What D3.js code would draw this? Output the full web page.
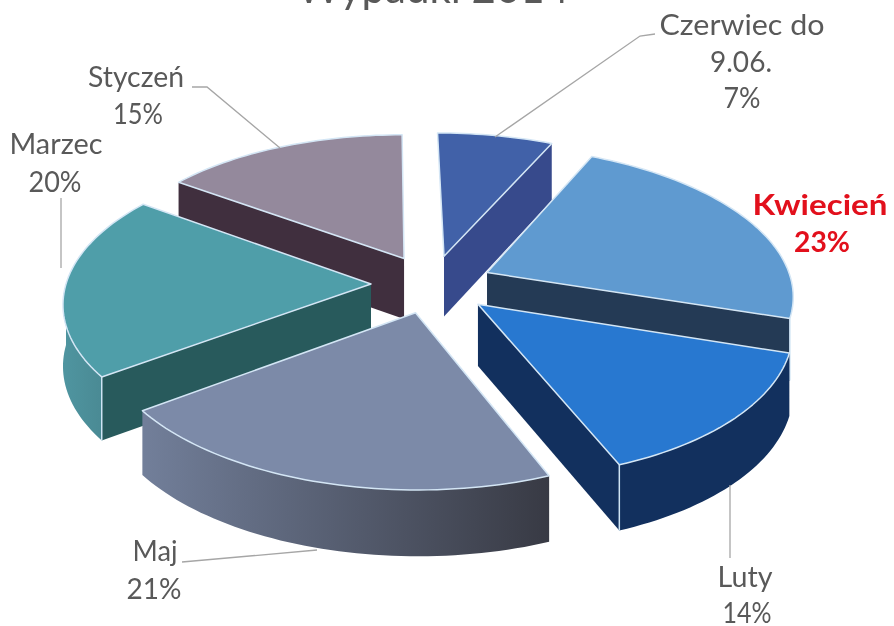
<!DOCTYPE html>
<html lang="en">
<head>
<meta charset="UTF-8">
<title>Wypadki 2014</title>
<style>
body { margin: 0; background: #fff; }
svg { filter: blur(0.5px); }
text { font-family: Lato, "Open Sans", sans-serif; }
</style>
</head>
<body>
<script src="https://d3js.org/d3.v7.min.js"></script>
<script>
var titleText = 'Wypadki 2014';
var months = ['Czerwiec do 9.06.', 'Kwiecień', 'Luty', 'Maj', 'Marzec', 'Styczeń'];
var shares = [7, 23, 14, 21, 20, 15];

var topColors = ['#4161a8', '#5f9ad0', '#2878d0', '#7c8aa8', '#4f9ea9', '#94899c'];
var wallColors = ['#374a8c', '#243a55', '#12305e', '#4a5266', '#285a5c', '#402f3e'];
var rimLeft = ['#374a8c', '#243a55', '#12305e', '#727f9a', '#4f95a0', '#402f3e'];
var rimRight = ['#374a8c', '#243a55', '#12305e', '#383a44', '#4a8a94', '#402f3e'];

// each label line: text, centre x, baseline, measured width
var labelLayout = [
    { hot: false, lines: [['Czerwiec do', 742, 35, 165], ['9.06.', 741, 72, 62], ['7%', 742, 108, 37]] },
    { hot: true, lines: [['Kwiecień', 820, 215, 135], ['23%', 822, 252, 56]] },
    { hot: false, lines: [['Luty', 745, 587, 55], ['14%', 747, 623, 49]] },
    { hot: false, lines: [['Maj', 155, 561, 45], ['21%', 154, 599, 55]] },
    { hot: false, lines: [['Marzec', 56, 154, 93], ['20%', 55, 192, 53]] },
    { hot: false, lines: [['Styczeń', 136, 87, 96], ['15%', 138, 124, 50]] }
];
var leaders = [
    [[495, 137], [640, 36], [655, 34]],
    [[730, 485], [730, 558]],
    [[317, 550], [182, 562]],
    [[61, 268], [61, 198]],
    [[280, 148], [207, 87], [192, 87]]
];

var width = 894, height = 626;
var cx = 432, cy = 284;
var rx = 305, ry = 146, persp = 0.13, depth = 61, explode = 0.2, skew = 5;

var svg = d3.select('body').append('svg')
    .attr('width', width)
    .attr('height', height);

var defs = svg.append('defs');

var angle = d3.scaleLinear().domain([0, 1]).range([0, 2 * Math.PI]);

var pie = d3.pie().sort(null).value(d => d)
    .startAngle(angle(0)).endAngle(angle(1));
var slices = pie(shares).map(function (s, i) {
    s.index = i;
    s.mid = (s.startAngle + s.endAngle) / 2;
    return s;
});

// plane point -> screen, near side gets bigger
function project(u, v, z) {
    var w = 1 - persp * v;
    return [cx + rx * u / w + skew * v, cy + ry * v / w + z * depth / Math.sqrt(w)];
}
function apex(s, z) {
    return project(explode * Math.sin(s.mid), -explode * Math.cos(s.mid), z);
}
function rim(s, a, z) {
    return project(explode * Math.sin(s.mid) + Math.sin(a), -explode * Math.cos(s.mid) - Math.cos(a), z);
}
function arcAngles(a0, a1) {
    var n = Math.max(2, Math.ceil((a1 - a0) * 40));
    return d3.range(n + 1).map(i => a0 + (a1 - a0) * i / n);
}

var openLine = d3.line();
var closedLine = d3.line().curve(d3.curveLinearClosed);

function radialWall(s, a) {
    return closedLine([apex(s, 0), rim(s, a, 0), rim(s, a, 1), apex(s, 1)]);
}

var order = slices.slice().sort((a, b) => -Math.cos(a.mid) - -Math.cos(b.mid));

order.forEach(function (s) {
    var i = s.index;
    var g = svg.append('g').attr('class', 'slice');

    var grad = defs.append('linearGradient').attr('id', 'rim' + i);
    grad.append('stop').attr('offset', '0%').attr('stop-color', rimLeft[i]);
    grad.append('stop').attr('offset', '100%').attr('stop-color', rimRight[i]);

    // walls that face the viewer
    if (Math.sin(s.startAngle) < -1e-6) {
        g.append('path').attr('d', radialWall(s, s.startAngle)).attr('fill', wallColors[i]);
    }
    if (Math.sin(s.endAngle) > 1e-6) {
        g.append('path').attr('d', radialWall(s, s.endAngle)).attr('fill', wallColors[i]);
    }

    // outer wall, short slivers at the side do not show in the original
    var r0 = Math.max(s.startAngle, Math.PI / 2);
    var r1 = Math.min(s.endAngle, 3 * Math.PI / 2);
    if (r1 - r0 > 0.4) {
        var as = arcAngles(r0, r1);
        var strip = as.map(a => rim(s, a, 0)).concat(as.slice().reverse().map(a => rim(s, a, 1)));
        g.append('path').attr('d', closedLine(strip)).attr('fill', 'url(#rim' + i + ')');
    }

    // corner edge where wall meets rim
    [s.startAngle, s.endAngle].forEach(function (a) {
        if (a > Math.PI / 2 && a < 3 * Math.PI / 2 && ((a === s.endAngle && Math.sin(a) > 0) || (a === s.startAngle && Math.sin(a) < 0))) {
            g.append('path').attr('d', openLine([rim(s, a, 0), rim(s, a, 1)]))
                .attr('fill', 'none').attr('stroke', '#cfe4f4').attr('stroke-width', 1.5);
        }
    });

    var face = [apex(s, 0)].concat(arcAngles(s.startAngle, s.endAngle).map(a => rim(s, a, 0)));
    g.append('path').attr('d', closedLine(face))
        .attr('fill', topColors[i])
        .attr('stroke', '#d4e6f5')
        .attr('stroke-width', 1.5)
        .attr('stroke-linejoin', 'round');
});

svg.selectAll('.leader')
    .data(leaders)
    .enter().append('path')
    .attr('class', 'leader')
    .attr('d', d => openLine(d))
    .attr('fill', 'none')
    .attr('stroke', '#a6a6a6')
    .attr('stroke-width', 1.3);

var label = svg.selectAll('.label')
    .data(labelLayout)
    .enter().append('text')
    .attr('class', 'label')
    .attr('text-anchor', 'middle')
    .style('font-size', '28px')
    .style('font-weight', d => d.hot ? 700 : 400)
    .attr('fill', d => d.hot ? '#e2101c' : '#595959');

label.selectAll('tspan')
    .data(d => d.lines)
    .enter().append('tspan')
    .attr('x', d => d[1])
    .attr('y', d => d[2])
    .attr('textLength', d => d[3])
    .attr('lengthAdjust', 'spacingAndGlyphs')
    .text(d => d[0]);

svg.append('text')
    .text(titleText)
    .attr('x', 433)
    .attr('y', 3)
    .attr('text-anchor', 'middle')
    .attr('fill', '#595959')
    .style('font-size', '42px');
</script>
</body>
</html>
